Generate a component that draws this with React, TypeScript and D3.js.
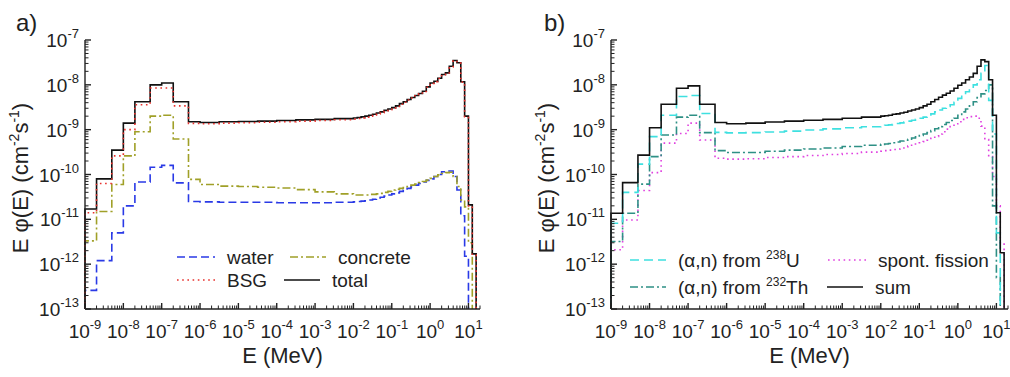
import { useEffect, useRef } from "react";
import * as d3 from "d3";

// ── Bin edges (MeV) ─────────────────────────────────────────────
const thermalEdges = [1e-9, 2e-9, 5e-9, 1e-8, 2e-8, 5e-8, 1e-7, 2e-7, 5e-7];
const upperEdgeExponents = [
  -6, -5.5, -5, -4.5, -4, -3.5, -3, -2.5, -2,
  -1.9, -1.8, -1.7, -1.6, -1.5, -1.4, -1.3, -1.2, -1.1, -1,
  -0.9, -0.8, -0.7, -0.6, -0.5, -0.4, -0.3, -0.2, -0.1, 0,
  0.1, 0.2, 0.3, 0.4, 0.5, 0.6, 0.7, 0.8, 0.9, 1, 1.1, 1.2,
];
const edges = [...thermalEdges, ...upperEdgeExponents.map(e => Math.pow(10, e))];

// ── Panel a: E·phi(E) per bin (cm^-2 s^-1) ──────────────────────
const waterA = [
  2.6e-13, 1.2e-12, 5e-12, 2e-11, 6.8e-11, 1.45e-10, 1.6e-10, 6.5e-11,
  2.5e-11, 2.45e-11, 2.4e-11, 2.4e-11, 2.4e-11, 2.35e-11, 2.35e-11, 2.35e-11, 2.4e-11,
  2.45e-11, 2.5e-11, 2.55e-11, 2.6e-11, 2.7e-11, 2.8e-11, 3.0e-11, 3.1e-11, 3.3e-11, 3.5e-11,
  3.7e-11, 3.9e-11, 4.2e-11, 4.5e-11, 4.9e-11, 5.3e-11, 5.8e-11, 6.3e-11, 6.8e-11, 7.4e-11,
  8.0e-11, 9.0e-11, 1.0e-10, 1.15e-10, 1.2e-10, 1.2e-10, 9e-11, 4.5e-11, 1.2e-11, 1.5e-12,
  null, null,
];
const concreteA = [
  3.3e-12, 1.5e-11, 6e-11, 2.6e-10, 9e-10, 2.0e-9, 2.1e-9, 6.2e-10,
  7.8e-11, 6.0e-11, 5.5e-11, 5.4e-11, 5.2e-11, 5.0e-11, 4.6e-11, 4.1e-11, 3.7e-11,
  3.5e-11, 3.5e-11, 3.5e-11, 3.5e-11, 3.6e-11, 3.6e-11, 3.7e-11, 3.8e-11, 4.0e-11, 4.2e-11,
  4.5e-11, 4.7e-11, 4.9e-11, 5.1e-11, 5.4e-11, 5.8e-11, 6.1e-11, 6.6e-11, 7.0e-11, 7.5e-11,
  8.2e-11, 9.0e-11, 9.8e-11, 1.05e-10, 1.1e-10, 1.12e-10, 9e-11, 5.4e-11, 2.7e-11, 1.9e-11,
  3e-12, null,
];
const bsgA = [
  1.4e-11, 6.3e-11, 2.6e-10, 1.0e-9, 3.6e-9, 8.5e-9, 8.5e-9, 3.4e-9,
  1.38e-9, 1.36e-9, 1.4e-9, 1.43e-9, 1.46e-9, 1.5e-9, 1.55e-9, 1.6e-9, 1.66e-9,
  1.72e-9, 1.77e-9, 1.83e-9, 1.9e-9, 2.0e-9, 2.1e-9, 2.25e-9, 2.4e-9, 2.6e-9, 2.8e-9,
  3.0e-9, 3.3e-9, 3.7e-9, 4.1e-9, 4.6e-9, 5.1e-9, 5.7e-9, 6.3e-9, 7.1e-9, 8.8e-9,
  1.08e-8, 1.18e-8, 1.38e-8, 1.68e-8, 1.83e-8, 2.5e-8, 3.45e-8, 3.05e-8, 1.15e-8, 1.95e-9,
  2.0e-11, 1.6e-12,
];
const totalA = [
  1.7e-11, 8e-11, 3.5e-10, 1.4e-9, 4.2e-9, 1.0e-8, 1.1e-8, 4.2e-9,
  1.5e-9, 1.45e-9, 1.5e-9, 1.52e-9, 1.55e-9, 1.6e-9, 1.65e-9, 1.7e-9, 1.76e-9,
  1.82e-9, 1.87e-9, 1.93e-9, 2.0e-9, 2.1e-9, 2.2e-9, 2.35e-9, 2.5e-9, 2.7e-9, 2.9e-9,
  3.1e-9, 3.4e-9, 3.8e-9, 4.2e-9, 4.7e-9, 5.2e-9, 5.8e-9, 6.4e-9, 7.2e-9, 9.0e-9,
  1.1e-8, 1.2e-8, 1.4e-8, 1.7e-8, 1.85e-8, 2.6e-8, 3.5e-8, 3.1e-8, 1.17e-8, 2.0e-9,
  2.1e-11, 1.7e-12,
];

// ── Panel b ─────────────────────────────────────────────────────
const uraniumB = [
  8.2e-12, 4.0e-11, 1.7e-10, 7.0e-10, 2.1e-9, 5.5e-9, 5.8e-9, 2.3e-9,
  8.7e-10, 8.5e-10, 8.6e-10, 8.9e-10, 9.3e-10, 9.8e-10, 1.04e-9, 1.1e-9, 1.16e-9,
  1.22e-9, 1.25e-9, 1.28e-9, 1.32e-9, 1.37e-9, 1.42e-9, 1.48e-9, 1.55e-9, 1.62e-9, 1.7e-9,
  1.8e-9, 1.9e-9, 2.05e-9, 2.25e-9, 2.5e-9, 2.75e-9, 3.0e-9, 3.3e-9, 3.6e-9, 4.1e-9,
  5.0e-9, 6.0e-9, 7.0e-9, 8.2e-9, 1.0e-8, 1.3e-8, 1.8e-8, 2.7e-8, 4.5e-9, 8e-10,
  5e-12, null,
];
const thoriumB = [
  3.2e-12, 1.37e-11, 6.1e-11, 2.5e-10, 7.6e-10, 1.9e-9, 2.1e-9, 8.6e-10,
  3.4e-10, 3.1e-10, 3.1e-10, 3.3e-10, 3.5e-10, 3.7e-10, 3.9e-10, 4.2e-10, 4.5e-10,
  4.7e-10, 4.8e-10, 4.9e-10, 5.1e-10, 5.3e-10, 5.6e-10, 5.8e-10, 6.1e-10, 6.5e-10, 6.9e-10,
  7.4e-10, 8.0e-10, 8.6e-10, 9.5e-10, 1.05e-9, 1.17e-9, 1.3e-9, 1.45e-9, 1.6e-9, 1.8e-9,
  2.1e-9, 2.5e-9, 2.9e-9, 3.4e-9, 4.2e-9, 5.2e-9, 6.3e-9, 7.5e-9, 1.0e-8, 2e-11,
  5e-13, null,
];
const fissionB = [
  2.1e-12, 9.7e-12, 4.4e-11, 1.1e-10, 5e-10, 8.2e-10, 1.4e-9, 5.9e-10,
  2.3e-10, 2.2e-10, 2.25e-10, 2.4e-10, 2.5e-10, 2.65e-10, 2.8e-10, 2.95e-10, 3.15e-10,
  3.3e-10, 3.4e-10, 3.5e-10, 3.6e-10, 3.7e-10, 3.9e-10, 4.1e-10, 4.3e-10, 4.5e-10, 4.8e-10,
  5.1e-10, 5.4e-10, 5.8e-10, 6.4e-10, 7.1e-10, 8.0e-10, 9.0e-10, 1.03e-9, 1.18e-9, 1.35e-9,
  1.5e-9, 1.7e-9, 1.85e-9, 1.95e-9, 2.0e-9, 1.8e-9, 1.2e-9, 6e-10, 2.5e-10, 9e-11,
  2e-11, 3e-12,
];
const sumB = [
  1.37e-11, 6.6e-11, 2.7e-10, 1.1e-9, 3.7e-9, 8.4e-9, 9.5e-9, 3.7e-9,
  1.45e-9, 1.35e-9, 1.4e-9, 1.48e-9, 1.55e-9, 1.62e-9, 1.7e-9, 1.8e-9, 1.9e-9,
  2.0e-9, 2.05e-9, 2.1e-9, 2.2e-9, 2.25e-9, 2.35e-9, 2.45e-9, 2.6e-9, 2.75e-9, 2.9e-9,
  3.1e-9, 3.4e-9, 3.7e-9, 4.2e-9, 4.7e-9, 5.3e-9, 5.9e-9, 6.5e-9, 7.3e-9, 8.4e-9,
  9.8e-9, 1.1e-8, 1.3e-8, 1.5e-8, 1.8e-8, 2.6e-8, 3.6e-8, 3.3e-8, 1.3e-8, 2.1e-9,
  1.4e-11, 1.8e-12,
];

// ── Axis ticks ──────────────────────────────────────────────────
const xTickExps = [-9, -8, -7, -6, -5, -4, -3, -2, -1, 0, 1];
const yTickExps = [-13, -12, -11, -10, -9, -8, -7];

const FONT = "'Liberation Sans', Arial, Helvetica, sans-serif";
const Y_TOP = 40;
const Y_BOTTOM = 309;
const FLOOR = 1e-13;

type Part = [string, boolean]; // text, superscript
type LegendItem = { label: Part[]; lx: number; tx: number; y: number };
type Series = {
  values: (number | null)[];
  color: string;
  dash: string | null;
  width: number;
  legend: LegendItem;
};
type PanelCfg = { left: number; right: number; tag: string; tagX: number; series: Series[] };

const panels: PanelCfg[] = [
  {
    left: 85, right: 480, tag: "a)", tagX: 16,
    series: [
      { values: waterA, color: "#2a3ae6", dash: "8,4", width: 1.6,
        legend: { label: [["water", false]], lx: 177, tx: 227, y: 257 } },
      { values: concreteA, color: "#a0a028", dash: "8,3,2,3", width: 1.6,
        legend: { label: [["concrete", false]], lx: 290, tx: 338, y: 257 } },
      { values: totalA, color: "#111", dash: null, width: 1.6,
        legend: { label: [["total", false]], lx: 284, tx: 332, y: 280 } },
      { values: bsgA, color: "#e8302c", dash: "1.6,3.6", width: 1.6,
        legend: { label: [["BSG", false]], lx: 177, tx: 227, y: 280 } },
    ],
  },
  {
    left: 611, right: 1008, tag: "b)", tagX: 544,
    series: [
      { values: fissionB, color: "#e040e0", dash: "1.6,3.6", width: 1.6,
        legend: { label: [["spont. fission", false]], lx: 828, tx: 878, y: 260 } },
      { values: thoriumB, color: "#2e9085", dash: "8,3,2,3", width: 1.6,
        legend: { label: [["(\u03b1,n) from ", false], ["232", true], ["Th", false]], lx: 630, tx: 678, y: 287 } },
      { values: uraniumB, color: "#3ee0e0", dash: "9,5", width: 1.6,
        legend: { label: [["(\u03b1,n) from ", false], ["238", true], ["U", false]], lx: 630, tx: 678, y: 260 } },
      { values: sumB, color: "#111", dash: null, width: 1.6,
        legend: { label: [["sum", false]], lx: 827, tx: 875, y: 287 } },
    ],
  },
];

function drawPanel(svg: d3.Selection<SVGSVGElement, unknown, null, undefined>, cfg: PanelCfg) {
  const x = d3.scaleLog().domain([1e-9, 20]).range([cfg.left, cfg.right]);
  const y = d3.scaleLog().domain([FLOOR, 1e-7]).range([Y_BOTTOM, Y_TOP]);
  const g = svg.append("g");

  // ── Data (histogram steps) ──────────────────────────────────
  const line = d3.line<[number, number]>()
    .x(d => x(d[0]))
    .y(d => y(Math.max(d[1], FLOOR)));

  cfg.series.forEach(s => {
    const pts: [number, number][] = [];
    let last = 0;
    s.values.forEach((v, i) => {
      if (v == null) return;
      if (pts.length === 0) pts.push([edges[i], FLOOR]);
      pts.push([edges[i], v], [edges[i + 1], v]);
      last = i;
    });
    pts.push([edges[last + 1], FLOOR]);
    g.append("path")
      .attr("d", line(pts))
      .attr("fill", "none")
      .attr("stroke", s.color)
      .attr("stroke-width", s.width)
      .attr("stroke-dasharray", s.dash)
      .attr("stroke-linejoin", "miter");
  });

  // ── Axes ────────────────────────────────────────────────────
  const axis = g.append("g").attr("stroke", "#222").attr("stroke-width", 1.4);
  axis.append("line")
    .attr("x1", cfg.left).attr("x2", cfg.right)
    .attr("y1", Y_BOTTOM).attr("y2", Y_BOTTOM);
  axis.append("line")
    .attr("x1", cfg.left).attr("x2", cfg.left)
    .attr("y1", Y_BOTTOM).attr("y2", Y_TOP);

  const xMinor: number[] = [];
  xTickExps.forEach(e => d3.range(2, 10).forEach(m => {
    const v = m * Math.pow(10, e);
    if (v <= 20) xMinor.push(v);
  }));
  const yMinor: number[] = [];
  yTickExps.slice(0, -1).forEach(e => d3.range(2, 10).forEach(m => yMinor.push(m * Math.pow(10, e))));

  xTickExps.forEach(e => {
    const px = x(Math.pow(10, e));
    axis.append("line").attr("x1", px).attr("x2", px).attr("y1", Y_BOTTOM).attr("y2", Y_BOTTOM - 6);
  });
  xMinor.forEach(v => {
    const px = x(v);
    axis.append("line").attr("x1", px).attr("x2", px).attr("y1", Y_BOTTOM).attr("y2", Y_BOTTOM - 3.5)
      .attr("stroke-width", 1);
  });
  yTickExps.forEach(e => {
    const py = y(Math.pow(10, e));
    axis.append("line").attr("x1", cfg.left).attr("x2", cfg.left + 6).attr("y1", py).attr("y2", py);
  });
  yMinor.forEach(v => {
    const py = y(v);
    axis.append("line").attr("x1", cfg.left).attr("x2", cfg.left + 3.5).attr("y1", py).attr("y2", py)
      .attr("stroke-width", 1);
  });

  // ── Tick labels ─────────────────────────────────────────────
  xTickExps.forEach(e => {
    const t = g.append("text")
      .attr("x", x(Math.pow(10, e)))
      .attr("y", 338)
      .attr("text-anchor", "middle")
      .style("font-family", FONT)
      .style("font-size", "19px")
      .attr("fill", "#222");
    t.append("tspan").text("10");
    t.append("tspan").attr("dy", -9).style("font-size", "13px").text(String(e));
  });
  yTickExps.forEach(e => {
    const t = g.append("text")
      .attr("x", cfg.left - 6)
      .attr("y", y(Math.pow(10, e)) + 7)
      .attr("text-anchor", "end")
      .style("font-family", FONT)
      .style("font-size", "19px")
      .attr("fill", "#222");
    t.append("tspan").text("10");
    t.append("tspan").attr("dy", -9).style("font-size", "13px").text(String(e));
  });

  // ── Axis titles ─────────────────────────────────────────────
  g.append("text")
    .attr("x", (cfg.left + cfg.right) / 2)
    .attr("y", 363)
    .attr("text-anchor", "middle")
    .style("font-family", FONT)
    .style("font-size", "22px")
    .attr("fill", "#222")
    .text("E (MeV)");

  const yt = g.append("text")
    .attr("transform", `translate(${cfg.left - 57},178) rotate(-90)`)
    .attr("text-anchor", "middle")
    .style("font-family", FONT)
    .style("font-size", "22px")
    .attr("fill", "#222");
  yt.append("tspan").text("E \u03c6(E) (cm");
  yt.append("tspan").attr("dy", -9).style("font-size", "14px").text("-2");
  yt.append("tspan").attr("dy", 9).text("s");
  yt.append("tspan").attr("dy", -9).style("font-size", "14px").text("-1");
  yt.append("tspan").attr("dy", 9).text(")");

  g.append("text")
    .attr("x", cfg.tagX)
    .attr("y", 31)
    .style("font-family", FONT)
    .style("font-size", "24px")
    .attr("fill", "#222")
    .text(cfg.tag);

  // ── Legend ──────────────────────────────────────────────────
  cfg.series.forEach(s => {
    const L = s.legend;
    g.append("line")
      .attr("x1", L.lx).attr("x2", L.tx - 12)
      .attr("y1", L.y).attr("y2", L.y)
      .attr("stroke", s.color)
      .attr("stroke-width", s.width)
      .attr("stroke-dasharray", s.dash);
    const t = g.append("text")
      .attr("x", L.tx)
      .attr("y", L.y + 7)
      .style("font-family", FONT)
      .style("font-size", "19px")
      .attr("fill", "#222");
    L.label.forEach(([txt, sup], i) => {
      const prevSup = i > 0 && L.label[i - 1][1];
      const span = t.append("tspan").text(txt);
      if (sup) span.attr("dy", -8).style("font-size", "12px");
      else if (prevSup) span.attr("dy", 8);
    });
  });
}

export default function App() {
  const ref = useRef<SVGSVGElement>(null);

  useEffect(() => {
    const el = ref.current;
    if (!el) return;
    const svg = d3.select(el);
    svg.selectAll("*").remove();
    panels.forEach(p => drawPanel(svg, p));
    return () => { svg.selectAll("*").remove(); };
  }, []);

  return (
    <svg
      ref={ref}
      width={1010}
      height={377}
      style={{ position: "absolute", left: 0, top: 0, background: "#fff", display: "block" }}
    />
  );
}
